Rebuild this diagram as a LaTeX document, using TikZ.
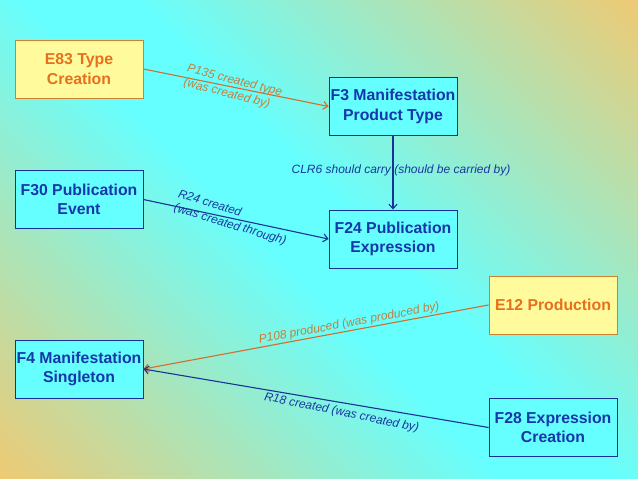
\documentclass[tikz,border=0pt]{standalone}
\usepackage{fontspec}
\setmainfont{Liberation Sans}
\usetikzlibrary{arrows.meta}
\definecolor{bgorange}{RGB}{248,198,106}
\definecolor{bgcyan}{RGB}{102,255,255}
\definecolor{boxcyan}{RGB}{102,255,255}
\definecolor{boxblue}{RGB}{20,50,150}
\definecolor{textblue}{RGB}{20,55,170}
\definecolor{boxyellow}{RGB}{255,250,155}
\definecolor{boxbrown}{RGB}{205,130,50}
\definecolor{textorange}{RGB}{230,112,30}
\definecolor{lineorange}{RGB}{210,110,45}
\definecolor{labelorange}{RGB}{192,128,62}
\definecolor{lineblue}{RGB}{25,50,150}
\definecolor{labelblue}{RGB}{25,55,160}
\newcommand\bxfont{\fontsize{15.8}{19.5}\selectfont\bfseries}
\newcommand\lbfont{\fontsize{12}{14.5}\selectfont\itshape}
\tikzset{
  cbox/.style={draw=boxblue, fill=boxcyan, text=textblue, line width=0.9pt,
    minimum width=128pt, minimum height=58pt, inner sep=0pt, align=center, font=\bxfont},
  ybox/.style={draw=boxbrown, fill=boxyellow, text=textorange, line width=0.9pt,
    minimum width=128pt, minimum height=58pt, inner sep=0pt, align=center, font=\bxfont},
  oline/.style={draw=lineorange, line width=1.1pt, -{Straight Barb[length=4.5pt,width=8pt]}},
  bline/.style={draw=lineblue, line width=1.1pt, -{Straight Barb[length=4.5pt,width=8pt]}},
  olabel/.style={text=labelorange, font=\lbfont, align=center, inner sep=1pt},
  blabel/.style={text=labelblue, font=\lbfont, align=center, inner sep=1pt}
}
\begin{document}
\begin{tikzpicture}[x=1pt,y=-1pt]
\useasboundingbox (0,0) rectangle (638,479);
\begin{scope}
  \clip (0,0) rectangle (638,479);
  \begin{scope}[transform canvas={shift={(319pt,-239.5pt)}, rotate=45}]
    \shade[left color=bgorange, right color=bgcyan] (-420,-430) rectangle (-39,430);
    \fill[bgcyan] (-40,-430) rectangle (40,430);
    \shade[left color=bgcyan, right color=bgorange] (39,-430) rectangle (420,430);
  \end{scope}
\end{scope}

\node[ybox] (e83) at (79,69) {E83 Type\\Creation};
\node[cbox] (f30) at (79,199.5) {F30 Publication\\Event};
\node[cbox] (f3) at (393,106.5) {F3 Manifestation\\Product Type};
\node[cbox] (f24) at (393,239) {F24 Publication\\Expression};
\node[cbox] (f4) at (79,369) {F4 Manifestation\\Singleton};
\node[ybox] (e12) at (553,305) {E12 Production};
\node[cbox] (f28) at (553,427.5) {F28 Expression\\Creation};

\draw[oline] (e83.east) -- node[olabel, align=left, sloped, rotate=-3, xshift=-3pt, yshift=-1pt] {P135 created type\\(was created by)} (f3.west);
\draw[bline] (f30.east) -- node[blabel, align=left, sloped, rotate=-5, xshift=-4pt] {R24 created\\(was created through)} (f24.west);
\draw[bline] (f3.south) -- node[blabel, pos=0.47, xshift=8pt] {CLR6 should carry (should be carried by)} (f24.north);
\draw[oline] (e12.west) -- node[olabel, sloped, above, pos=0.4] {P108 produced (was produced by)} (f4.east);
\draw[bline] (f28.west) -- node[blabel, sloped, below, pos=0.42, inner sep=4pt, rotate=-2] {R18 created (was created by)} (f4.east);
\end{tikzpicture}
\end{document}
